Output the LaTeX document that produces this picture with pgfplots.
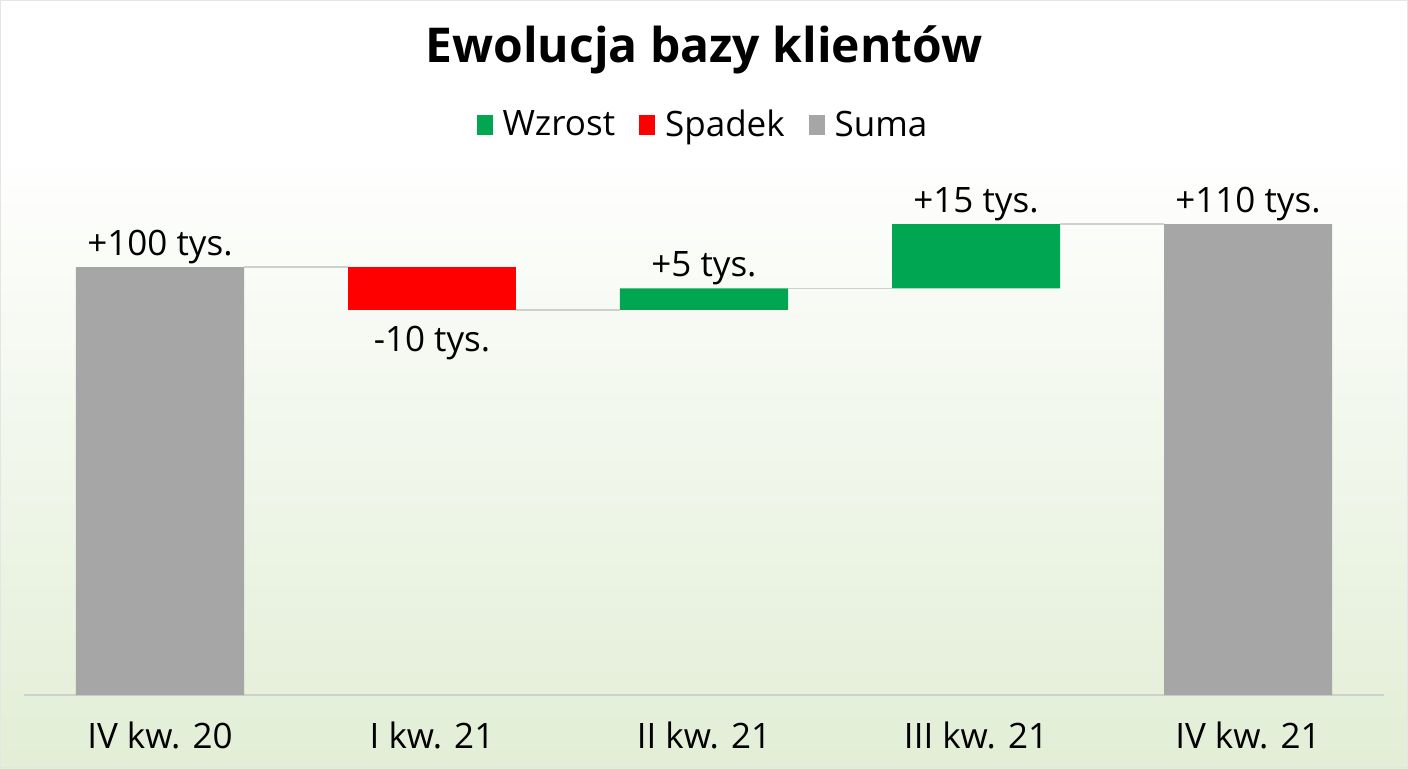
\documentclass[border=0pt]{standalone}
\usepackage{pgfplots}
\pgfplotsset{compat=1.18}
\usepackage{fontspec}
\setmainfont{Open Sans}

\definecolor{wzrost}{RGB}{0,166,81}
\definecolor{spadek}{RGB}{255,0,0}
\definecolor{suma}{RGB}{166,166,166}
\definecolor{bgbottom}{RGB}{226,238,214}
\definecolor{linegray}{RGB}{205,208,205}

\newcommand{\lbl}{\fontsize{17.5}{21}\selectfont}

\pgfplotsset{wf/.style={
    scale only axis,
    width=680pt, height=256.8pt,
    at={(12pt,36.5pt)}, anchor=south west,
    xmin=-0.5, xmax=4.5,
    ymin=0, ymax=120,
    clip=false,
}}

\begin{document}
\begin{tikzpicture}
% tlo z gradientem
\fill[white] (0,0) rectangle (704pt,384pt);
\shade[top color=white, bottom color=bgbottom] (0,0) rectangle (704pt,310pt);
\draw[black!10, line width=0.6pt] (0.3pt,0.3pt) rectangle (703.7pt,383.7pt);

\node[font=\fontsize{24}{28}\selectfont\bfseries] at (352pt,359pt) {Ewolucja bazy klientów};

\begin{axis}[
    wf,
    ybar stacked,
    bar width=84pt,
    axis x line*=bottom,
    axis y line=none,
    x axis line style={linegray, line width=0.8pt, -},
    xtick={0,1,2,3,4},
    xticklabels={IV kw. 20, I kw. 21, II kw. 21, III kw. 21, IV kw. 21},
    major tick length=0pt,
    xticklabel style={font=\lbl, yshift=-10pt},
    legend columns=-1,
    legend style={
        at={(0.5,1.11)}, anchor=center,
        draw=none, fill=none, font=\lbl,
        /tikz/every even column/.append style={column sep=10pt},
    },
    legend image code/.code={\fill[#1] (0pt,-5pt) rectangle (8pt,5pt); \path (11pt,0pt);},
]
% podstawa (niewidoczna)
\addplot[draw=none, fill=none, forget plot] coordinates {(0,0) (1,90) (2,90) (3,95) (4,0)};
\addplot[draw=none, fill=wzrost] coordinates {(0,0) (1,0) (2,5) (3,15) (4,0)};
\addlegendentry{Wzrost}
\addplot[draw=none, fill=spadek] coordinates {(0,0) (1,10) (2,0) (3,0) (4,0)};
\addlegendentry{Spadek}
\addplot[draw=none, fill=suma] coordinates {(0,100) (1,0) (2,0) (3,0) (4,110)};
\addlegendentry{Suma}
\end{axis}

\begin{axis}[wf, hide axis]
% linie laczace
\addplot[linegray, line width=0.8pt] coordinates {(0.309,100) (0.691,100)};
\addplot[linegray, line width=0.8pt] coordinates {(1.309,90) (1.691,90)};
\addplot[linegray, line width=0.8pt] coordinates {(2.309,95) (2.691,95)};
\addplot[linegray, line width=0.8pt] coordinates {(3.309,110) (3.691,110)};
% etykiety
\addplot[draw=none, nodes near coords, point meta=explicit symbolic,
    nodes near coords style={font=\lbl, text=black, anchor=south, yshift=-2pt}]
    coordinates {(0,100) [+100 tys.] (2,95) [+5 tys.] (3,110) [+15 tys.] (4,110) [+110 tys.]};
\addplot[draw=none, nodes near coords, point meta=explicit symbolic,
    nodes near coords style={font=\lbl, text=black, anchor=north, yshift=-4.5pt}]
    coordinates {(1,90) [-10 tys.]};
\end{axis}
\end{tikzpicture}
\end{document}
